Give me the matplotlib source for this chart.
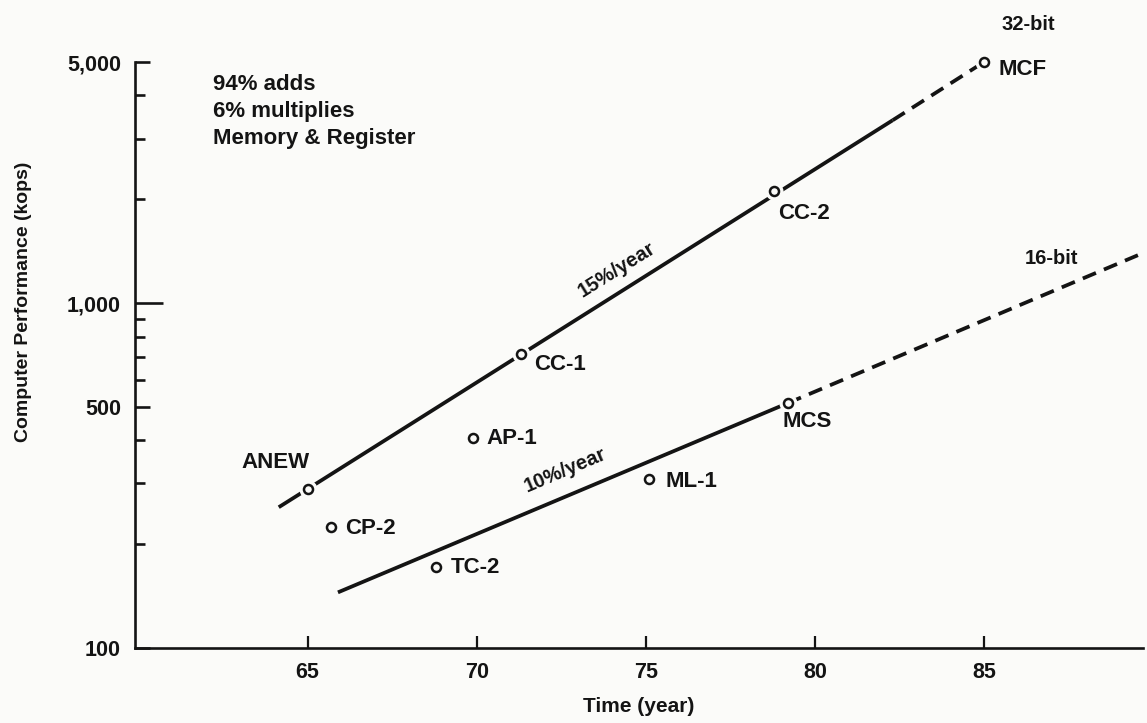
import numpy as np
import matplotlib
matplotlib.use('Agg')
import matplotlib.pyplot as plt
from matplotlib.ticker import FixedLocator, NullFormatter

plt.rcParams['font.family'] = ['Liberation Sans', 'DejaVu Sans']
plt.rcParams['font.weight'] = 'bold'
plt.rcParams['axes.labelweight'] = 'bold'

# machines (year, kops)
names = ['ANEW', 'CP-2', 'TC-2', 'AP-1', 'CC-1', 'ML-1', 'CC-2', 'MCS', 'MCF']
years = [65.0, 65.7, 68.8, 69.9, 71.3, 75.1, 78.8, 79.2, 85.0]
kops = [290, 224, 172, 406, 714, 310, 2110, 513, 5000]

# trend lines: start, end of solid part, end of dashed part
t32_years = [64.15, 82.3, 85.0]
t32_kops = [256, 3390, 5000]
t16_years = [65.9, 79.2, 89.55]
t16_kops = [145, 513, 1377]

yticks_major = [100, 500, 1000, 5000]
yticks_minor = [200, 300, 400, 600, 700, 800, 900, 2000, 3000, 4000]
xticks = [65, 70, 75, 80, 85]
notes = ['94% adds', '6% multiplies', 'Memory & Register']

bg = '#fbfbf9'
ink = '#141414'

# label offsets in pixels from the marker
label_off = {
    'ANEW': (-32, 26, 'center'), 'CP-2': (14, -1, 'left'), 'TC-2': (15, -1, 'left'),
    'AP-1': (13, 0, 'left'), 'CC-1': (14, -11, 'left'), 'ML-1': (16, -3, 'left'),
    'CC-2': (4, -22, 'left'), 'MCS': (-5, -18, 'left'), 'MCF': (14, -7, 'left'),
}

fig = plt.figure(figsize=(11.47, 7.23), dpi=100, facecolor=bg)
ax = fig.add_axes([0.1177, 0.1037, 0.8788, 0.8105], facecolor=bg)
ax.set_yscale('log')
ax.set_xlim(59.9, 89.7)
ax.set_ylim(100, 5000)

lw = 2.7
# 32-bit
ax.plot(t32_years[:2], t32_kops[:2], color=ink, lw=lw, solid_capstyle='butt', zorder=2)
ax.plot(t32_years[1:], t32_kops[1:], color=ink, lw=lw, dashes=(3.8, 2.3), zorder=2)
# 16-bit
ax.plot(t16_years[:2], t16_kops[:2], color=ink, lw=lw, solid_capstyle='butt', zorder=2)
ax.plot(t16_years[1:], t16_kops[1:], color=ink, lw=lw, dashes=(3.8, 2.3), zorder=2,
        clip_on=False)

# markers with a small gap round them
ax.plot(years, kops, 'o', ms=12, color=bg, zorder=3, clip_on=False)
ax.plot(years, kops, 'o', ms=6.5, mfc=bg, mec=ink, mew=1.8, zorder=4, clip_on=False)

for n, x, y in zip(names, years, kops):
    dx, dy, ha = label_off[n]
    ax.annotate(n, (x, y), xytext=(dx, dy), textcoords='offset pixels',
                ha=ha, va='center', fontsize=16, color=ink)

ax.text(74.14, 1246, '15%/year', rotation=32, rotation_mode='anchor',
        ha='center', va='center', fontsize=14.5, color=ink)
ax.text(72.63, 328, '10%/year', rotation=23, rotation_mode='anchor',
        ha='center', va='center', fontsize=14.5, color=ink)
ax.text(85.53, 6440, '32-bit', ha='left', va='center', fontsize=14.5, color=ink)
ax.text(86.21, 1350, '16-bit', ha='left', va='center', fontsize=14.5, color=ink)

for txt, yy in zip(notes, [4290, 3600, 3010]):
    ax.text(62.2, yy, txt, ha='left', va='center', fontsize=16, color=ink)

# axes
for s in ['top', 'right']:
    ax.spines[s].set_visible(False)
for s in ['left', 'bottom']:
    ax.spines[s].set_linewidth(1.9)
    ax.spines[s].set_color(ink)

ax.yaxis.set_major_locator(FixedLocator(yticks_major))
ax.yaxis.set_minor_locator(FixedLocator(yticks_minor))
ax.yaxis.set_minor_formatter(NullFormatter())
ax.set_yticklabels(['{:,}'.format(v) for v in yticks_major])
ax.set_xticks(xticks)
ax.set_xticklabels([str(v) for v in xticks])

ax.tick_params(axis='y', which='major', direction='in', length=11, width=1.9,
               pad=10, labelsize=15.5, colors=ink)
ax.tick_params(axis='y', which='minor', direction='in', length=7, width=1.9, colors=ink)
ax.tick_params(axis='x', which='major', direction='in', length=9, width=1.6,
               pad=10, labelsize=15.5, colors=ink)
ax.tick_params(axis='x', which='minor', bottom=False)
# longer tick at 1,000
ax.yaxis.get_major_ticks()[2].tick1line.set_markersize(20)

ax.set_xlabel('Time (year)', fontsize=15, color=ink)
ax.set_ylabel('Computer Performance (kops)', fontsize=14, color=ink)
ax.xaxis.set_label_coords(0.5, -0.084)
ax.yaxis.set_label_coords(-0.102, 0.59)

fig.savefig('out.png', dpi=100, facecolor=bg)
